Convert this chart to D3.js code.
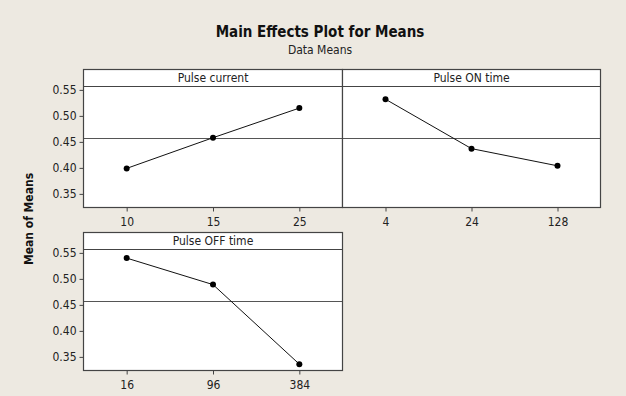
<!DOCTYPE html>
<html>
<head>
<meta charset="utf-8">
<script src="https://cdn.jsdelivr.net/npm/d3@7"></script>
<style>
  body { margin: 0; background: #ede9e1; }
  svg { display: block; }
</style>
</head>
<body>
<div id="chart"></div>
<script>
// values
const factors = ['Pulse current', 'Pulse ON time', 'Pulse OFF time'];
const levelsCurrent = ['10', '15', '25'];
const meansCurrent = [0.399, 0.458, 0.515];
const levelsOn = ['4', '24', '128'];
const meansOn = [0.532, 0.437, 0.404];
const levelsOff = ['16', '96', '384'];
const meansOff = [0.540, 0.489, 0.336];
const grandMean = 0.4573;
const yTicks = [0.35, 0.40, 0.45, 0.50, 0.55];
const yDomain = [0.3238, 0.5565];

const width = 626, height = 396;

const svg = d3.select('#chart').append('svg')
    .attr('width', width)
    .attr('height', height);

svg.append('rect').attr('width', width).attr('height', height).attr('fill', '#ede9e1');

// titles
svg.append('text')
    .attr('x', 320).attr('y', 37)
    .attr('text-anchor', 'middle')
    .style('font-family', 'DejaVu Sans Condensed, DejaVu Sans')
    .style('font-weight', 'bold')
    .style('font-size', '15px')
    .style('fill', '#111')
    .text('Main Effects Plot for Means');

svg.append('text')
    .attr('x', 320).attr('y', 54)
    .attr('text-anchor', 'middle')
    .style('font-family', 'DejaVu Sans Condensed, DejaVu Sans')
    .style('font-size', '12px')
    .style('fill', '#222')
    .text('Data Means');

svg.append('text')
    .attr('transform', 'translate(33,219) rotate(-90)')
    .attr('text-anchor', 'middle')
    .style('font-family', 'DejaVu Sans Condensed, DejaVu Sans')
    .style('font-weight', 'bold')
    .style('font-size', '12px')
    .style('fill', '#111')
    .text('Mean of Means');

const panels = [
    { name: factors[0], levels: levelsCurrent, means: meansCurrent, x0: 83.5, x1: 342.5, top: 69.5, bottom: 207.5, leftAxis: true },
    { name: factors[1], levels: levelsOn, means: meansOn, x0: 342.5, x1: 600.5, top: 69.5, bottom: 207.5, leftAxis: false },
    { name: factors[2], levels: levelsOff, means: meansOff, x0: 83.5, x1: 342.5, top: 232.5, bottom: 370.5, leftAxis: true },
];
const stripH = 17;
const lineColor = '#444';
const font = 'DejaVu Sans Condensed, DejaVu Sans';

panels.forEach(p => {
    const g = svg.append('g');
    const plotTop = p.top + stripH;

    const x = d3.scalePoint().domain(p.levels).range([p.x0, p.x1]).padding(0.5);
    const y = d3.scaleLinear().domain(yDomain).range([p.bottom, plotTop]);

    g.append('rect')
        .attr('x', p.x0).attr('y', p.top)
        .attr('width', p.x1 - p.x0).attr('height', p.bottom - p.top)
        .attr('fill', '#fff');

    // strip
    g.append('line')
        .attr('x1', p.x0).attr('x2', p.x1)
        .attr('y1', plotTop).attr('y2', plotTop)
        .attr('stroke', lineColor).attr('stroke-width', 1.2);
    g.append('text')
        .attr('x', (p.x0 + p.x1) / 2).attr('y', p.top + 12.5)
        .attr('text-anchor', 'middle')
        .style('font-family', font)
        .style('font-size', '12px')
        .style('fill', '#222')
        .text(p.name);

    // grand mean reference line
    g.append('line')
        .attr('x1', p.x0).attr('x2', p.x1)
        .attr('y1', Math.round(y(grandMean)) + 0.5).attr('y2', Math.round(y(grandMean)) + 0.5)
        .attr('stroke', '#555').attr('stroke-width', 1);

    // axes
    const xAxis = g.append('g')
        .attr('transform', `translate(0,${p.bottom})`)
        .call(d3.axisBottom(x).tickSize(4).tickPadding(6));
    xAxis.select('.domain').remove();
    xAxis.selectAll('line').attr('stroke', lineColor);
    xAxis.selectAll('text')
        .style('font-family', font)
        .style('font-size', '12px')
        .style('fill', '#222');

    if (p.leftAxis) {
        const yAxis = g.append('g')
            .attr('transform', `translate(${p.x0},0)`)
            .call(d3.axisLeft(y).tickValues(yTicks).tickFormat(d3.format('.2f')).tickSize(4).tickPadding(3));
        yAxis.select('.domain').remove();
        yAxis.selectAll('line').attr('stroke', lineColor);
        yAxis.selectAll('text')
            .style('font-family', font)
            .style('font-size', '12px')
            .style('fill', '#222');
    }

    // data
    const pts = p.levels.map((l, i) => ({ level: l, mean: p.means[i] }));
    g.append('path')
        .datum(pts)
        .attr('fill', 'none')
        .attr('stroke', '#111')
        .attr('stroke-width', 1)
        .attr('d', d3.line().x(d => x(d.level)).y(d => y(d.mean)));
    g.selectAll('.dot').data(pts).enter().append('circle')
        .attr('cx', d => x(d.level))
        .attr('cy', d => y(d.mean))
        .attr('r', 3)
        .attr('fill', '#000');

    // border
    g.append('rect')
        .attr('x', p.x0).attr('y', p.top)
        .attr('width', p.x1 - p.x0).attr('height', p.bottom - p.top)
        .attr('fill', 'none')
        .attr('stroke', lineColor).attr('stroke-width', 1.2);
});
</script>
</body>
</html>
